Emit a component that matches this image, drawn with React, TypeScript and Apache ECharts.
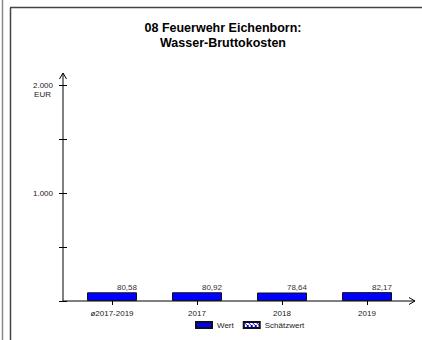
import React, { useEffect, useRef } from "react";
import * as echarts from "echarts";

const categories = ["ø2017-2019", "2017", "2018", "2019"];
const values = [80.58, 80.92, 78.64, 82.17];
const yTicks = [0, 500, 1000, 1500, 2000];
const titleLines = ["08 Feuerwehr Eichenborn:", "Wasser-Bruttokosten"];
const legendNames = ["Wert", "Schätzwert"];
const unit = "EUR";

const FONT = "Liberation Sans, Arial, sans-serif";

function fmtDe(v: number, dec: number) {
  const s = v.toFixed(dec);
  const [i, d] = s.split(".");
  const ii = i.replace(/\B(?=(\d{3})+(?!\d))/g, ".");
  return d ? ii + "," + d : ii;
}

function makePattern() {
  const c = document.createElement("canvas");
  c.width = 4;
  c.height = 4;
  const ctx = c.getContext("2d")!;
  ctx.fillStyle = "#ffffff";
  ctx.fillRect(0, 0, 4, 4);
  ctx.fillStyle = "#0000ff";
  ctx.fillRect(0, 0, 1, 1);
  ctx.fillRect(1, 1, 1, 1);
  ctx.fillRect(2, 2, 1, 1);
  ctx.fillRect(3, 3, 1, 1);
  ctx.fillRect(3, 0, 1, 1);
  ctx.fillRect(0, 3, 1, 1);
  return c;
}

export default function App() {
  const ref = useRef<HTMLDivElement>(null);
  useEffect(() => {
    if (!ref.current) return;
    const chart = echarts.init(ref.current, null, { renderer: "svg" });
    const gridLeft = 69.5;
    const gridTop = 85;
    const gridW = 340;
    const gridH = 216;
    const axisX = 63;
    const axisY = gridTop + gridH;
    const lineColor = "#000";
    const yAxisBase = {
      type: "value" as const,
      position: "left" as const,
      min: yTicks[0],
      max: yTicks[yTicks.length - 1],
      interval: yTicks[1] - yTicks[0],
      offset: gridLeft - axisX,
      splitLine: { show: false },
      axisLine: { show: false },
    };
    chart.setOption({
      animation: false,
      title: {
        text: titleLines.join("\n"),
        left: 218,
        textAlign: "center",
        top: 15,
        textStyle: {
          fontFamily: FONT,
          fontSize: 12.5,
          fontWeight: "bold",
          color: "#000",
          lineHeight: 15,
        },
      },
      grid: { left: gridLeft, top: gridTop, width: gridW, height: gridH },
      legend: {
        data: legendNames,
        left: 190,
        top: 316,
        itemWidth: 16,
        itemHeight: 6,
        itemGap: 9,
        icon: "rect",
        textStyle: { fontFamily: FONT, fontSize: 8, color: "#222" },
      },
      xAxis: {
        type: "category",
        data: categories,
        axisLine: { show: false },
        axisTick: {
          show: true,
          alignWithLabel: true,
          length: 4,
          lineStyle: { color: lineColor },
        },
        axisLabel: {
          fontFamily: FONT,
          fontSize: 8,
          color: "#222",
          margin: 8,
          interval: 0,
        },
      },
      yAxis: [
        {
          ...yAxisBase,
          name: unit,
          nameLocation: "end",
          nameGap: -13,
          nameTextStyle: {
            fontFamily: FONT,
            fontSize: 8,
            color: "#222",
            align: "right",
            padding: [0, 12, 0, 0],
          },
          axisTick: { show: true, length: 4, lineStyle: { color: lineColor } },
          axisLabel: {
            fontFamily: FONT,
            fontSize: 8,
            color: "#222",
            margin: 10,
            formatter: (v: number) => (v % 1000 === 0 && v !== 0 ? fmtDe(v, 0) : ""),
          },
        },
        {
          ...yAxisBase,
          axisTick: { show: true, inside: true, length: 4, lineStyle: { color: lineColor } },
          axisLabel: { show: false },
        },
      ],
      series: [
        {
          name: legendNames[0],
          type: "bar",
          stack: "s",
          data: values,
          barWidth: 50,
          itemStyle: { color: "#0000ff", borderColor: "#111", borderWidth: 1 },
          label: {
            show: true,
            position: ["100%", -1],
            align: "right",
            verticalAlign: "bottom",
            fontFamily: FONT,
            fontSize: 8,
            color: "#333",
            formatter: (p: any) => fmtDe(p.value, 2),
          },
        },
        {
          name: legendNames[1],
          type: "bar",
          stack: "s",
          data: [],
          barWidth: 50,
          itemStyle: {
            color: { image: makePattern(), repeat: "repeat" },
            borderColor: "#111",
            borderWidth: 1,
          },
        },
      ],
      graphic: [
        { type: "line", shape: { x1: 2.5, y1: 0, x2: 2.5, y2: 340 }, style: { stroke: "#888", lineWidth: 1.5 } },
        { type: "line", shape: { x1: 10.5, y1: 7.5, x2: 10.5, y2: 340 }, style: { stroke: "#444", lineWidth: 1.5 } },
        { type: "line", shape: { x1: 10, y1: 7.5, x2: 422, y2: 7.5 }, style: { stroke: "#444", lineWidth: 1.5 } },
        { type: "line", shape: { x1: axisX, y1: axisY, x2: 415, y2: axisY }, style: { stroke: lineColor, lineWidth: 1 } },
        { type: "polyline", shape: { points: [[409, axisY - 3.5], [415, axisY], [409, axisY + 3.5]] }, style: { stroke: lineColor, lineWidth: 1, fill: "none" } },
        { type: "line", shape: { x1: axisX, y1: axisY, x2: axisX, y2: 73 }, style: { stroke: lineColor, lineWidth: 1 } },
        { type: "polyline", shape: { points: [[axisX - 3.5, 79], [axisX, 73], [axisX + 3.5, 79]] }, style: { stroke: lineColor, lineWidth: 1, fill: "none" } },
      ],
    });
    return () => chart.dispose();
  }, []);
  return (
    <div
      ref={ref}
      style={{ position: "fixed", left: 0, top: 0, width: 422, height: 340, background: "#fff" }}
    />
  );
}
